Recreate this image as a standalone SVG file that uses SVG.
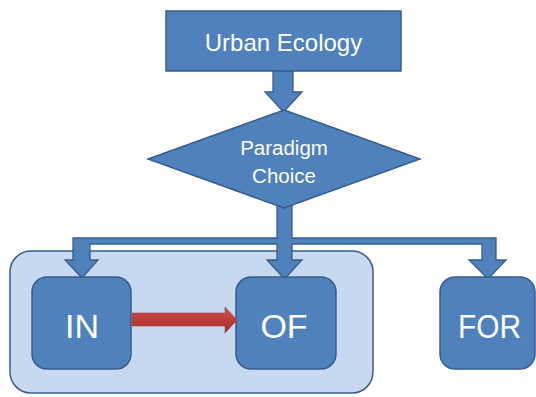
<svg xmlns="http://www.w3.org/2000/svg" width="536" height="397" viewBox="0 0 536 397">
  <style>
    .node { fill: #4f81bd; stroke: #385d8a; stroke-width: 1.5; }
    .conn { fill: #4f81bd; stroke: #385d8a; stroke-width: 1.3; stroke-linejoin: miter; }
    .group { fill: #c6d9f0; stroke: #385d8a; stroke-width: 1.5; }
    .lbl { fill: #ffffff; font-family: "Liberation Sans", Arial, sans-serif; text-anchor: middle; }
  </style>
  <defs>
    <linearGradient id="red" x1="0" y1="0" x2="0" y2="1">
      <stop offset="0" stop-color="#d2504b"/>
      <stop offset="1" stop-color="#a52d2a"/>
    </linearGradient>
  </defs>
  <rect x="0" y="0" width="536" height="397" fill="#ffffff"/>

  <g id="group-container">
    <rect class="group" x="10" y="251" width="363" height="142" rx="21" ry="21"/>
  </g>

  <g id="connectors">
    <path class="conn" d="M273,71 V92 H265 L283.5,112 L302,92 H293 V71 Z"/>
    <path class="conn" d="M277,200 V238 H73 V260 H65 L82,278 L98,260 H90 V244 H277 V260 H267 L284.5,279 L302,260 H292 V244 H482 V260 H469 L488,279 L506,260 H496 V238 H292 V200 Z"/>
  </g>

  <g id="node-urban-ecology">
    <rect class="node" x="166" y="11" width="235" height="60"/>
    <text class="lbl" x="283.5" y="51" font-size="24">Urban Ecology</text>
  </g>

  <g id="node-paradigm-choice">
    <polygon class="node" points="284,110 420,159 284,208 148,159"/>
    <text class="lbl" x="284" y="155" font-size="20.5">Paradigm</text>
    <text class="lbl" x="284" y="183" font-size="20.5">Choice</text>
  </g>

  <g id="node-in">
    <rect class="node" x="32" y="277" width="99" height="92" rx="15" ry="15"/>
    <text class="lbl" x="82" y="338" font-size="34">IN</text>
  </g>

  <g id="node-of">
    <rect class="node" x="236" y="277" width="100" height="92" rx="15" ry="15"/>
    <text class="lbl" x="284" y="338" font-size="34">OF</text>
  </g>

  <g id="node-for">
    <rect class="node" x="440" y="277" width="95" height="92" rx="15" ry="15"/>
    <text class="lbl" x="489.5" y="338" font-size="34" textLength="63" lengthAdjust="spacingAndGlyphs">FOR</text>
  </g>

  <g id="connector-in-of">
    <path d="M132,313 H225 V307 L237,320 L225,333 V326 H132 Z" fill="url(#red)" stroke="#a83a37" stroke-width="0.6"/>
  </g>
</svg>
